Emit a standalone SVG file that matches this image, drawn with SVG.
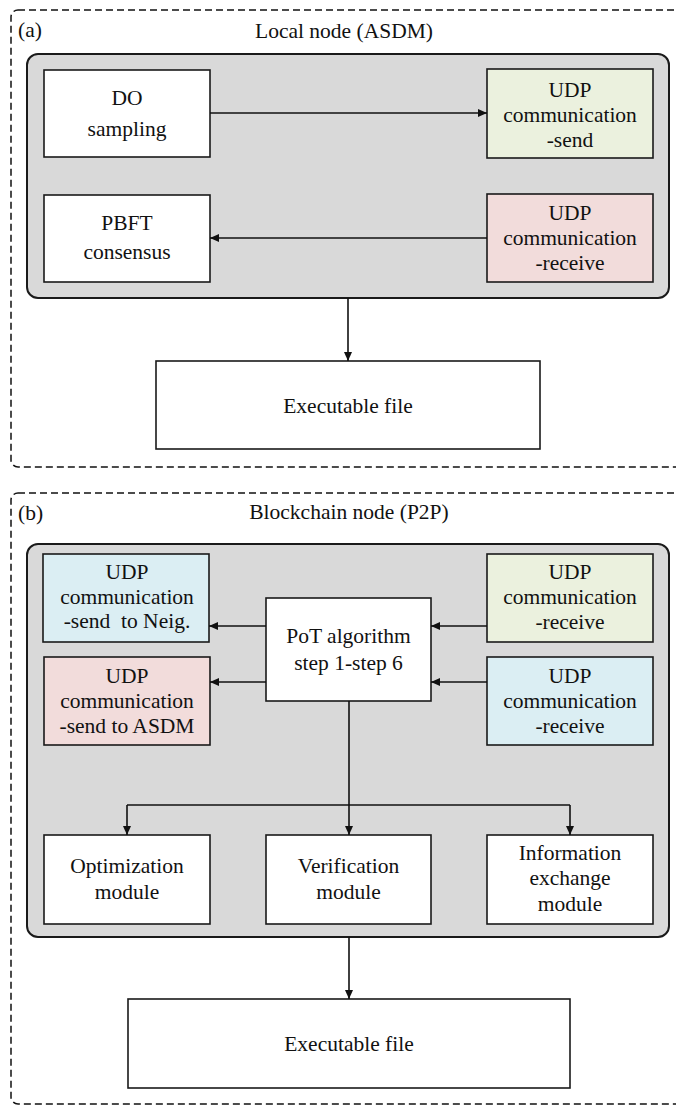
<svg xmlns="http://www.w3.org/2000/svg" width="676" height="1106" viewBox="0 0 676 1106">
  <style>
    text { font-family: "Liberation Serif", "Times New Roman", serif; font-size: 21.5px; fill: #111; text-anchor: middle; }
    .label { text-anchor: start; }
    .frame { fill: none; stroke: #111; stroke-width: 1.5; stroke-dasharray: 7 4; }
    .panel { fill: #d9d9d9; stroke: #1a1a1a; stroke-width: 2; }
    .box { stroke: #1a1a1a; stroke-width: 1.6; }
    .white { fill: #ffffff; }
    .green { fill: #ebf1de; }
    .pink { fill: #f2dcdb; }
    .blue { fill: #dbeef3; }
    .link { fill: none; stroke: #111; stroke-width: 1.6; }
    .arrow { marker-end: url(#head); }
  </style>
  <defs>
    <marker id="head" markerUnits="userSpaceOnUse" markerWidth="10" markerHeight="9" refX="9" refY="4" orient="auto">
      <path d="M0,0 L9,4 L0,8 z" fill="#111"/>
    </marker>
  </defs>

  <!-- (a) Local node -->
  <g id="section-a">
    <rect class="frame" x="11" y="10" width="690" height="457" rx="7"/>
    <text class="label" x="18" y="37">(a)</text>
    <text x="344" y="38">Local node (ASDM)</text>
    <rect class="panel" x="27" y="54" width="642" height="244" rx="11"/>
  </g>

  <g id="do-sampling">
    <rect class="box white" x="44" y="70" width="166" height="87"/>
    <text x="127" y="105">DO</text>
    <text x="127" y="136">sampling</text>
  </g>

  <g id="udp-send-a">
    <rect class="box green" x="487" y="69" width="166" height="89"/>
    <text x="570" y="97">UDP</text>
    <text x="570" y="122">communication</text>
    <text x="570" y="147">-send</text>
  </g>

  <g id="pbft-consensus">
    <rect class="box white" x="44" y="195" width="166" height="87"/>
    <text x="127" y="230">PBFT</text>
    <text x="127" y="259">consensus</text>
  </g>

  <g id="udp-receive-a">
    <rect class="box pink" x="487" y="194" width="166" height="88"/>
    <text x="570" y="220">UDP</text>
    <text x="570" y="245">communication</text>
    <text x="570" y="270">-receive</text>
  </g>

  <g id="executable-a">
    <rect class="box white" x="156" y="361" width="384" height="88"/>
    <text x="348" y="413">Executable file</text>
  </g>

  <!-- (b) Blockchain node -->
  <g id="section-b">
    <rect class="frame" x="11" y="493" width="690" height="611" rx="7"/>
    <text class="label" x="18" y="520">(b)</text>
    <text x="349" y="519">Blockchain node (P2P)</text>
    <rect class="panel" x="27" y="544" width="642" height="393" rx="11"/>
  </g>

  <g id="udp-send-neig">
    <rect class="box blue" x="43" y="554" width="166" height="88"/>
    <text x="127" y="579">UDP</text>
    <text x="127" y="604">communication</text>
    <text x="127" y="628" xml:space="preserve">-send  to Neig.</text>
  </g>

  <g id="udp-send-asdm">
    <rect class="box pink" x="44" y="657" width="166" height="88"/>
    <text x="127" y="683">UDP</text>
    <text x="127" y="708">communication</text>
    <text x="127" y="733">-send to ASDM</text>
  </g>

  <g id="pot-algorithm">
    <rect class="box white" x="266" y="598" width="165" height="103"/>
    <text x="348.5" y="643">PoT algorithm</text>
    <text x="348.5" y="670">step 1-step 6</text>
  </g>

  <g id="udp-receive-green">
    <rect class="box green" x="487" y="554" width="166" height="88"/>
    <text x="570" y="579">UDP</text>
    <text x="570" y="604">communication</text>
    <text x="570" y="629">-receive</text>
  </g>

  <g id="udp-receive-blue">
    <rect class="box blue" x="487" y="657" width="166" height="88"/>
    <text x="570" y="683">UDP</text>
    <text x="570" y="708">communication</text>
    <text x="570" y="733">-receive</text>
  </g>

  <g id="optimization-module">
    <rect class="box white" x="44" y="835" width="166" height="89"/>
    <text x="127" y="873">Optimization</text>
    <text x="127" y="899">module</text>
  </g>

  <g id="verification-module">
    <rect class="box white" x="266" y="835" width="165" height="89"/>
    <text x="348.5" y="873">Verification</text>
    <text x="348.5" y="899">module</text>
  </g>

  <g id="information-exchange-module">
    <rect class="box white" x="487" y="835" width="166" height="89"/>
    <text x="570" y="860">Information</text>
    <text x="570" y="885">exchange</text>
    <text x="570" y="911">module</text>
  </g>

  <g id="executable-b">
    <rect class="box white" x="128" y="999" width="442" height="89"/>
    <text x="349" y="1051">Executable file</text>
  </g>

  <!-- connectors -->
  <g id="connectors">
    <line class="link arrow" x1="210" y1="113" x2="487" y2="113"/>
    <line class="link arrow" x1="487" y1="238" x2="210" y2="238"/>
    <line class="link arrow" x1="348" y1="298" x2="348" y2="361"/>

    <line class="link arrow" x1="266" y1="626" x2="209" y2="626"/>
    <line class="link arrow" x1="266" y1="682" x2="210" y2="682"/>
    <line class="link arrow" x1="487" y1="626" x2="431" y2="626"/>
    <line class="link arrow" x1="487" y1="682" x2="431" y2="682"/>

    <line class="link arrow" x1="349" y1="701" x2="349" y2="835"/>
    <polyline class="link" points="127,805 570,805"/>
    <line class="link arrow" x1="127" y1="805" x2="127" y2="835"/>
    <line class="link arrow" x1="570" y1="805" x2="570" y2="835"/>
    <line class="link arrow" x1="349" y1="937" x2="349" y2="999"/>
  </g>
</svg>
